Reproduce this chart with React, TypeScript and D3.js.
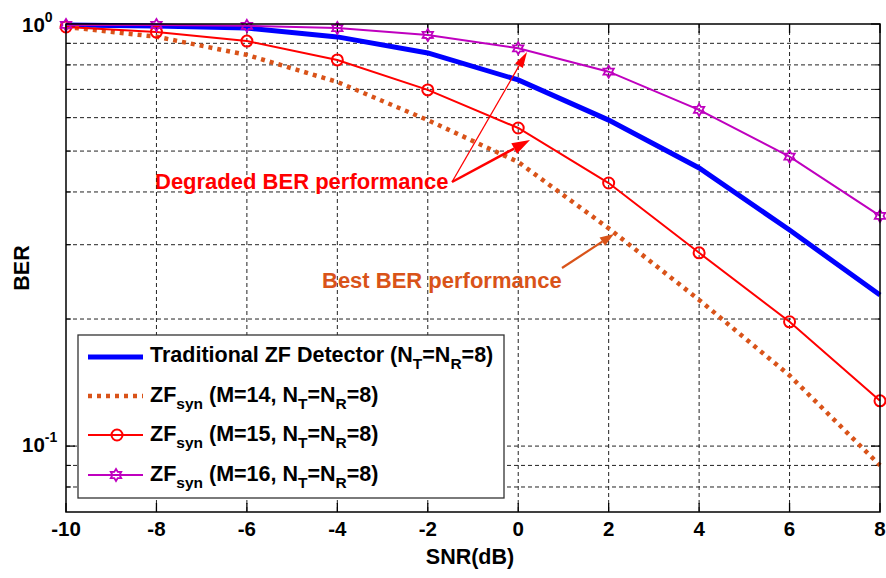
import React from "react";
import * as d3 from "d3";

const snr = [-10, -8, -6, -4, -2, 0, 2, 4, 6, 8];
const berZF = [0.995, 0.989, 0.978, 0.932, 0.854, 0.737, 0.592, 0.456, 0.325, 0.228];
const berM14 = [0.984, 0.933, 0.845, 0.729, 0.592, 0.471, 0.328, 0.222, 0.147, 0.09];
const berM15 = [0.984, 0.957, 0.911, 0.822, 0.698, 0.567, 0.42, 0.287, 0.197, 0.128];
const berM16 = [0.995, 0.995, 0.99, 0.978, 0.942, 0.876, 0.771, 0.626, 0.485, 0.351];
const xTicks = [-10, -8, -6, -4, -2, 0, 2, 4, 6, 8];
const yMinor = [0.08, 0.09, 0.2, 0.3, 0.4, 0.5, 0.6, 0.7, 0.8, 0.9];
const yMajor = [0.1, 1];

const W = 886, H = 578;
const L = 66, R = 880, T = 24, B = 512;
const FONT = "'Liberation Sans', Arial, sans-serif";

const x = d3.scaleLinear().domain([-10, 8]).range([L, R]);
const y = d3.scaleLog().domain([0.0698, 1]).range([B, T]);

function hexagram(cx: number, cy: number, ro = 6, ri = 3.5) {
  const pts: string[] = [];
  for (let i = 0; i < 12; i++) {
    const a = -Math.PI / 2 + (i * Math.PI) / 6;
    const r = i % 2 === 0 ? ro : ri;
    pts.push(`${cx + r * Math.cos(a)},${cy + r * Math.sin(a)}`);
  }
  return "M" + pts.join("L") + "Z";
}

function arrow(x1: number, y1: number, x2: number, y2: number, color: string, w: number, hl = 16, hw = 5) {
  const a = Math.atan2(y2 - y1, x2 - x1);
  const bx = x2 - hl * Math.cos(a), by = y2 - hl * Math.sin(a);
  const px = -Math.sin(a) * hw, py = Math.cos(a) * hw;
  return (
    <g>
      <line x1={x1} y1={y1} x2={bx} y2={by} stroke={color} strokeWidth={w} />
      <path d={`M${x2},${y2}L${bx + px},${by + py}L${bx - px},${by - py}Z`} fill={color} />
    </g>
  );
}

export default function App() {
  const line = d3.line<number>().x((_, i) => x(snr[i])).y((d) => y(d));
  const blue = "#0000ff", orange = "#d95319", red = "#ff0000", purple = "#bf00bf";
  const legendItems = [
    { y: 357, color: blue },
    { y: 396, color: orange },
    { y: 435, color: red },
    { y: 475, color: purple },
  ];
  const sub = (t: string) => (
    <tspan fontSize={15.5} dy={7}>{t}</tspan>
  );
  return (
    <svg width={W} height={H} style={{ position: "absolute", left: 0, top: 0, background: "#fff" }}>
      <rect x={0} y={0} width={W} height={H} fill="#fff" />
      {/* grid */}
      {xTicks.slice(1, -1).map((t) => (
        <line key={"gx" + t} x1={x(t)} x2={x(t)} y1={T} y2={B} stroke="#222" strokeWidth={1} strokeDasharray="4,3" />
      ))}
      {[...yMinor, 0.1].map((t) => (
        <line key={"gy" + t} x1={L} x2={R} y1={y(t)} y2={y(t)} stroke="#222" strokeWidth={1} strokeDasharray="4,3" />
      ))}
      {/* ticks */}
      {xTicks.map((t) => (
        <g key={"tx" + t}>
          <line x1={x(t)} x2={x(t)} y1={B} y2={B - 9} stroke="#000" strokeWidth={1.3} />
          <line x1={x(t)} x2={x(t)} y1={T} y2={T + 9} stroke="#000" strokeWidth={1.3} />
          <text x={x(t)} y={536} textAnchor="middle" fontFamily={FONT} fontWeight="bold" fontSize={20.5}>{t}</text>
        </g>
      ))}
      {yMajor.map((t) => (
        <g key={"ty" + t}>
          <line x1={L} x2={L + 9} y1={y(t)} y2={y(t)} stroke="#000" strokeWidth={1.3} />
          <line x1={R} x2={R - 9} y1={y(t)} y2={y(t)} stroke="#000" strokeWidth={1.3} />
        </g>
      ))}
      {yMinor.map((t) => (
        <g key={"tm" + t}>
          <line x1={L} x2={L + 5} y1={y(t)} y2={y(t)} stroke="#000" strokeWidth={1} />
          <line x1={R} x2={R - 5} y1={y(t)} y2={y(t)} stroke="#000" strokeWidth={1} />
        </g>
      ))}
      <text x={22} y={y(1) + 8} fontFamily={FONT} fontWeight="bold" fontSize={20.5}>
        10<tspan fontSize={14} dy={-10}>0</tspan>
      </text>
      <text x={22} y={y(0.1) + 6} fontFamily={FONT} fontWeight="bold" fontSize={20.5}>
        10<tspan fontSize={14} dy={-10}>-1</tspan>
      </text>
      {/* series */}
      <path d={line(berZF) || ""} fill="none" stroke={blue} strokeWidth={5} />
      <path d={line(berM14) || ""} fill="none" stroke={orange} strokeWidth={4.5} strokeDasharray="4,5" />
      <path d={line(berM15) || ""} fill="none" stroke={red} strokeWidth={2} />
      {berM15.map((v, i) => (
        <circle key={"c" + i} cx={x(snr[i])} cy={y(v)} r={5.5} fill="none" stroke={red} strokeWidth={2} />
      ))}
      <path d={line(berM16) || ""} fill="none" stroke={purple} strokeWidth={2} />
      {berM16.map((v, i) => (
        <path key={"h" + i} d={hexagram(x(snr[i]), y(v))} fill="none" stroke={purple} strokeWidth={1.8} />
      ))}
      {/* frame */}
      <rect x={L} y={T} width={R - L} height={B - T} fill="none" stroke="#000" strokeWidth={1.5} />
      {/* annotations */}
      <text x={155} y={189} fontFamily={FONT} fontWeight="bold" fontSize={22} fill={red}>Degraded BER performance</text>
      {arrow(452, 182, 527, 52, red, 1.3, 16, 4.5)}
      {arrow(452, 182, 530, 140, red, 2.5, 18, 6)}
      <text x={322} y={288} fontFamily={FONT} fontWeight="bold" fontSize={22} fill={orange}>Best BER performance</text>
      {arrow(562, 268, 614, 234, orange, 2.2, 14, 5)}
      {/* legend */}
      <rect x={78} y={335} width={426} height={163} fill="#fff" stroke="#333" strokeWidth={1.3} />
      {legendItems.map((it, i) => (
        <g key={"lg" + i}>
          <line x1={88} x2={143} y1={it.y} y2={it.y} stroke={it.color}
            strokeWidth={i === 0 ? 5 : i === 1 ? 4.5 : 2} strokeDasharray={i === 1 ? "4,5" : undefined} />
          {i === 2 && <circle cx={117} cy={it.y} r={5.5} fill="none" stroke={red} strokeWidth={2} />}
          {i === 3 && <path d={hexagram(116, it.y)} fill="none" stroke={purple} strokeWidth={1.8} />}
        </g>
      ))}
      <text x={150} y={362} fontFamily={FONT} fontWeight="bold" fontSize={21.5}>
        Traditional ZF Detector (N{sub("T")}<tspan dy={-7}>=N</tspan>{sub("R")}<tspan dy={-7}>=8)</tspan>
      </text>
      {[14, 15, 16].map((m, i) => (
        <text key={"lt" + m} x={150} y={legendItems[i + 1].y + 6} fontFamily={FONT} fontWeight="bold" fontSize={21.5}>
          ZF{sub("syn")}<tspan dy={-7}> (M={m}, N</tspan>{sub("T")}<tspan dy={-7}>=N</tspan>{sub("R")}<tspan dy={-7}>=8)</tspan>
        </text>
      ))}
      {/* axis labels */}
      <text x={470} y={564} textAnchor="middle" fontFamily={FONT} fontWeight="bold" fontSize={21.5}>SNR(dB)</text>
      <text transform="translate(29,268) rotate(-90)" textAnchor="middle" fontFamily={FONT} fontWeight="bold" fontSize={21.5}>BER</text>
    </svg>
  );
}
